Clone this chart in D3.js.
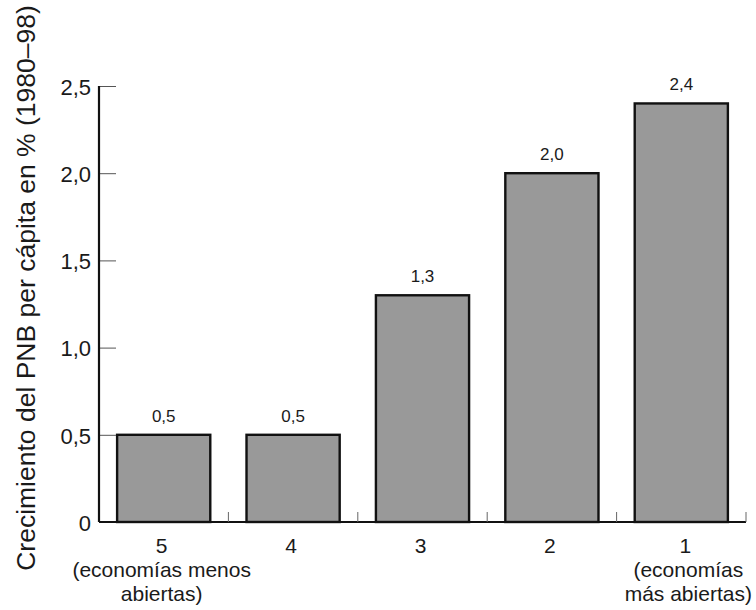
<!DOCTYPE html>
<html>
<head>
<meta charset="utf-8">
<script src="https://cdnjs.cloudflare.com/ajax/libs/d3/7.8.5/d3.min.js"></script>
<style>
  html, body { margin: 0; padding: 0; background: #fff; }
  svg { display: block; font-family: "Liberation Sans", Arial, Helvetica, sans-serif; }
</style>
</head>
<body>
<svg id="chart" width="756" height="610"></svg>
<script>
// Apertura comercial (quintiles) y crecimiento del PNB per cápita
const categories = ["5", "4", "3", "2", "1"];
const values = [0.5, 0.5, 1.3, 2.0, 2.4];
const valueLabels = ["0,5", "0,5", "1,3", "2,0", "2,4"];
const subLabels = [["(economías menos", "abiertas)"], [], [], [], ["(economías", "más abiertas)"]];
const yTicks = [0, 0.5, 1.0, 1.5, 2.0, 2.5];
const yTickLabels = ["0", "0,5", "1,0", "1,5", "2,0", "2,5"];
const yTitle = "Crecimiento del PNB per cápita en % (1980–98)";

const svg = d3.select("#chart");
const plotLeft = 99, plotRight = 746, plotTop = 86, plotBottom = 522;
const ink = "#1a1a1a";

const x = d3.scaleBand().domain(categories).range([plotLeft, plotRight]).paddingInner(0.28).paddingOuter(0.14);
const y = d3.scaleLinear().domain([0, 2.5]).range([plotBottom, plotTop]);

// Bars
svg.append("g").selectAll("rect")
  .data(values)
  .join("rect")
  .attr("x", (d, i) => x(categories[i]))
  .attr("y", d => y(d))
  .attr("width", x.bandwidth())
  .attr("height", d => y(0) - y(d))
  .attr("fill", "#999999")
  .attr("stroke", "#111")
  .attr("stroke-width", 2.4);

// Value labels above bars
svg.append("g").selectAll("text")
  .data(values)
  .join("text")
  .attr("x", (d, i) => x(categories[i]) + x.bandwidth() / 2)
  .attr("y", d => y(d) - 13)
  .attr("text-anchor", "middle")
  .attr("font-size", 17)
  .attr("fill", ink)
  .text((d, i) => valueLabels[i]);

// Y axis
const yAxis = d3.axisRight(y).tickValues(yTicks).tickSize(17).tickFormat("");
const gy = svg.append("g").attr("transform", `translate(${plotLeft},0)`).call(yAxis);
gy.select(".domain").remove();
gy.selectAll(".tick line").attr("stroke", "#555").attr("stroke-width", 1);
svg.append("line")
  .attr("x1", plotLeft).attr("x2", plotLeft)
  .attr("y1", y(2.5)).attr("y2", y(0))
  .attr("stroke", "#111").attr("stroke-width", 2.2);

svg.append("g").selectAll("text")
  .data(yTicks)
  .join("text")
  .attr("x", plotLeft - 8)
  .attr("y", d => y(d) + 1)
  .attr("dy", "0.35em")
  .attr("text-anchor", "end")
  .attr("font-size", 22)
  .attr("fill", ink)
  .text((d, i) => yTickLabels[i]);

// X axis baseline with small ticks between categories
svg.append("line")
  .attr("x1", plotLeft).attr("x2", plotRight)
  .attr("y1", y(0)).attr("y2", y(0))
  .attr("stroke", "#111").attr("stroke-width", 2.2);

const step = x.step();
const boundaries = categories.map((c, i) => x(c) + x.bandwidth() + (step - x.bandwidth()) / 2);
svg.append("g").selectAll("line")
  .data(boundaries)
  .join("line")
  .attr("x1", d => d).attr("x2", d => d)
  .attr("y1", y(0)).attr("y2", y(0) - 10)
  .attr("stroke", "#666").attr("stroke-width", 1);

// Category labels
const catG = svg.append("g");
categories.forEach((c, i) => {
  const cx = x(c) + x.bandwidth() / 2;
  catG.append("text")
    .attr("x", cx + (i === 4 ? 4 : -2)).attr("y", 553)
    .attr("text-anchor", "middle")
    .attr("font-size", 21).attr("fill", ink)
    .text(c);
  subLabels[i].forEach((line, j) => {
    catG.append("text")
      .attr("x", cx + (i === 4 ? 7 : -2)).attr("y", 577 + j * 24)
      .attr("text-anchor", "middle")
      .attr("font-size", 21).attr("fill", ink)
      .text(line);
  });
});

// Y axis title
svg.append("text")
  .attr("transform", `translate(35,288) rotate(-90)`)
  .attr("text-anchor", "middle")
  .attr("font-size", 26.5)
  .attr("fill", ink)
  .text(yTitle);
</script>
</body>
</html>
